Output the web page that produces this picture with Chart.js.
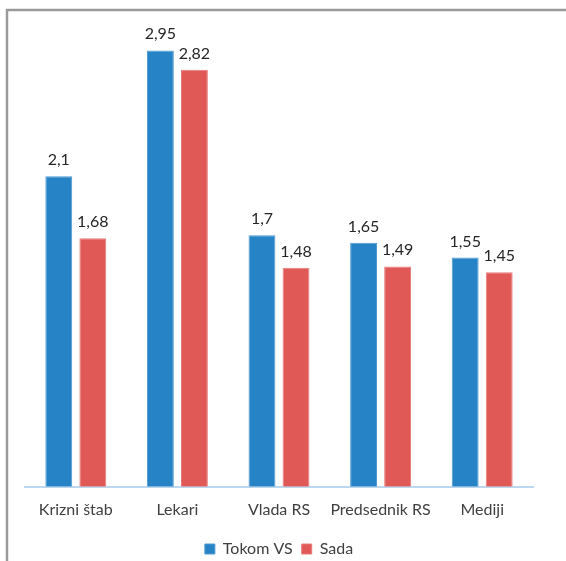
<!DOCTYPE html>
<html>
<head>
<meta charset="utf-8">
<script src="https://cdn.jsdelivr.net/npm/chart.js@4"></script>
<style>
  html, body { margin: 0; padding: 0; background: #fff; }
  #wrap { width: 566px; height: 561px; position: relative; }
</style>
</head>
<body>
<div id="wrap"><canvas id="myChart"></canvas></div>
<script>
const categories = ['Krizni štab', 'Lekari', 'Vlada RS', 'Predsednik RS', 'Mediji'];
const tokomVS = [2.1, 2.95, 1.7, 1.65, 1.55];
const sada = [1.68, 2.82, 1.48, 1.49, 1.45];
const seriesNames = ['Tokom VS', 'Sada'];

const FONT = 'Lato, "Open Sans", sans-serif';

// frame lines (top + left) and white background
const framePlugin = {
    id: 'frame',
    beforeDraw(chart) {
        const c = chart.ctx;
        c.save();
        c.fillStyle = '#fff';
        c.fillRect(0, 0, chart.width, chart.height);
        c.strokeStyle = '#9a9a9a';
        c.lineWidth = 2.5;
        c.beginPath();
        c.moveTo(7, chart.height);
        c.lineTo(7, 10);
        c.lineTo(chart.width, 10);
        c.stroke();
        c.restore();
    }
};

// value labels above the bars, with decimal comma
const valueLabels = {
    id: 'valueLabels',
    afterDatasetsDraw(chart) {
        const c = chart.ctx;
        c.save();
        c.font = '16px ' + FONT;
        c.fillStyle = '#262626';
        c.textAlign = 'center';
        c.textBaseline = 'alphabetic';
        chart.data.datasets.forEach((ds, i) => {
            chart.getDatasetMeta(i).data.forEach((bar, j) => {
                const txt = String(ds.data[j]).replace('.', ',');
                c.fillText(txt, bar.x, bar.y - 11);
            });
        });
        c.restore();
    }
};

const ctx = document.getElementById('myChart');

new Chart(ctx, {
    type: 'bar',
    data: {
        labels: categories,
        datasets: [{
            label: seriesNames[0],
            data: tokomVS,
            backgroundColor: '#2683c6',
            borderColor: '#4f9ad3',
            borderWidth: 1,
            categoryPercentage: 0.67,
            barPercentage: 0.79
        }, {
            label: seriesNames[1],
            data: sada,
            backgroundColor: '#e05956',
            borderColor: '#e87d7b',
            borderWidth: 1,
            categoryPercentage: 0.67,
            barPercentage: 0.79
        }]
    },
    options: {
        responsive: true,
        maintainAspectRatio: false,
        animation: false,
        layout: { padding: { top: 43, left: 25, right: 33, bottom: -6 } },
        plugins: {
            tooltip: { enabled: false },
            legend: {
                position: 'bottom',
                labels: {
                    boxWidth: 10,
                    boxHeight: 10,
                    padding: 9,
                    color: '#404040',
                    font: { family: FONT, size: 16 }
                }
            }
        },
        scales: {
            x: {
                grid: { display: false, drawTicks: false },
                border: { color: '#bdd7ee', width: 2 },
                ticks: {
                    color: '#404040',
                    padding: 13,
                    minRotation: 0,
                    maxRotation: 0,
                    autoSkip: false,
                    font: { family: FONT, size: 16 }
                }
            },
            y: {
                display: false,
                min: 0,
                max: 3
            }
        }
    },
    plugins: [framePlugin, valueLabels]
});
</script>
</body>
</html>
